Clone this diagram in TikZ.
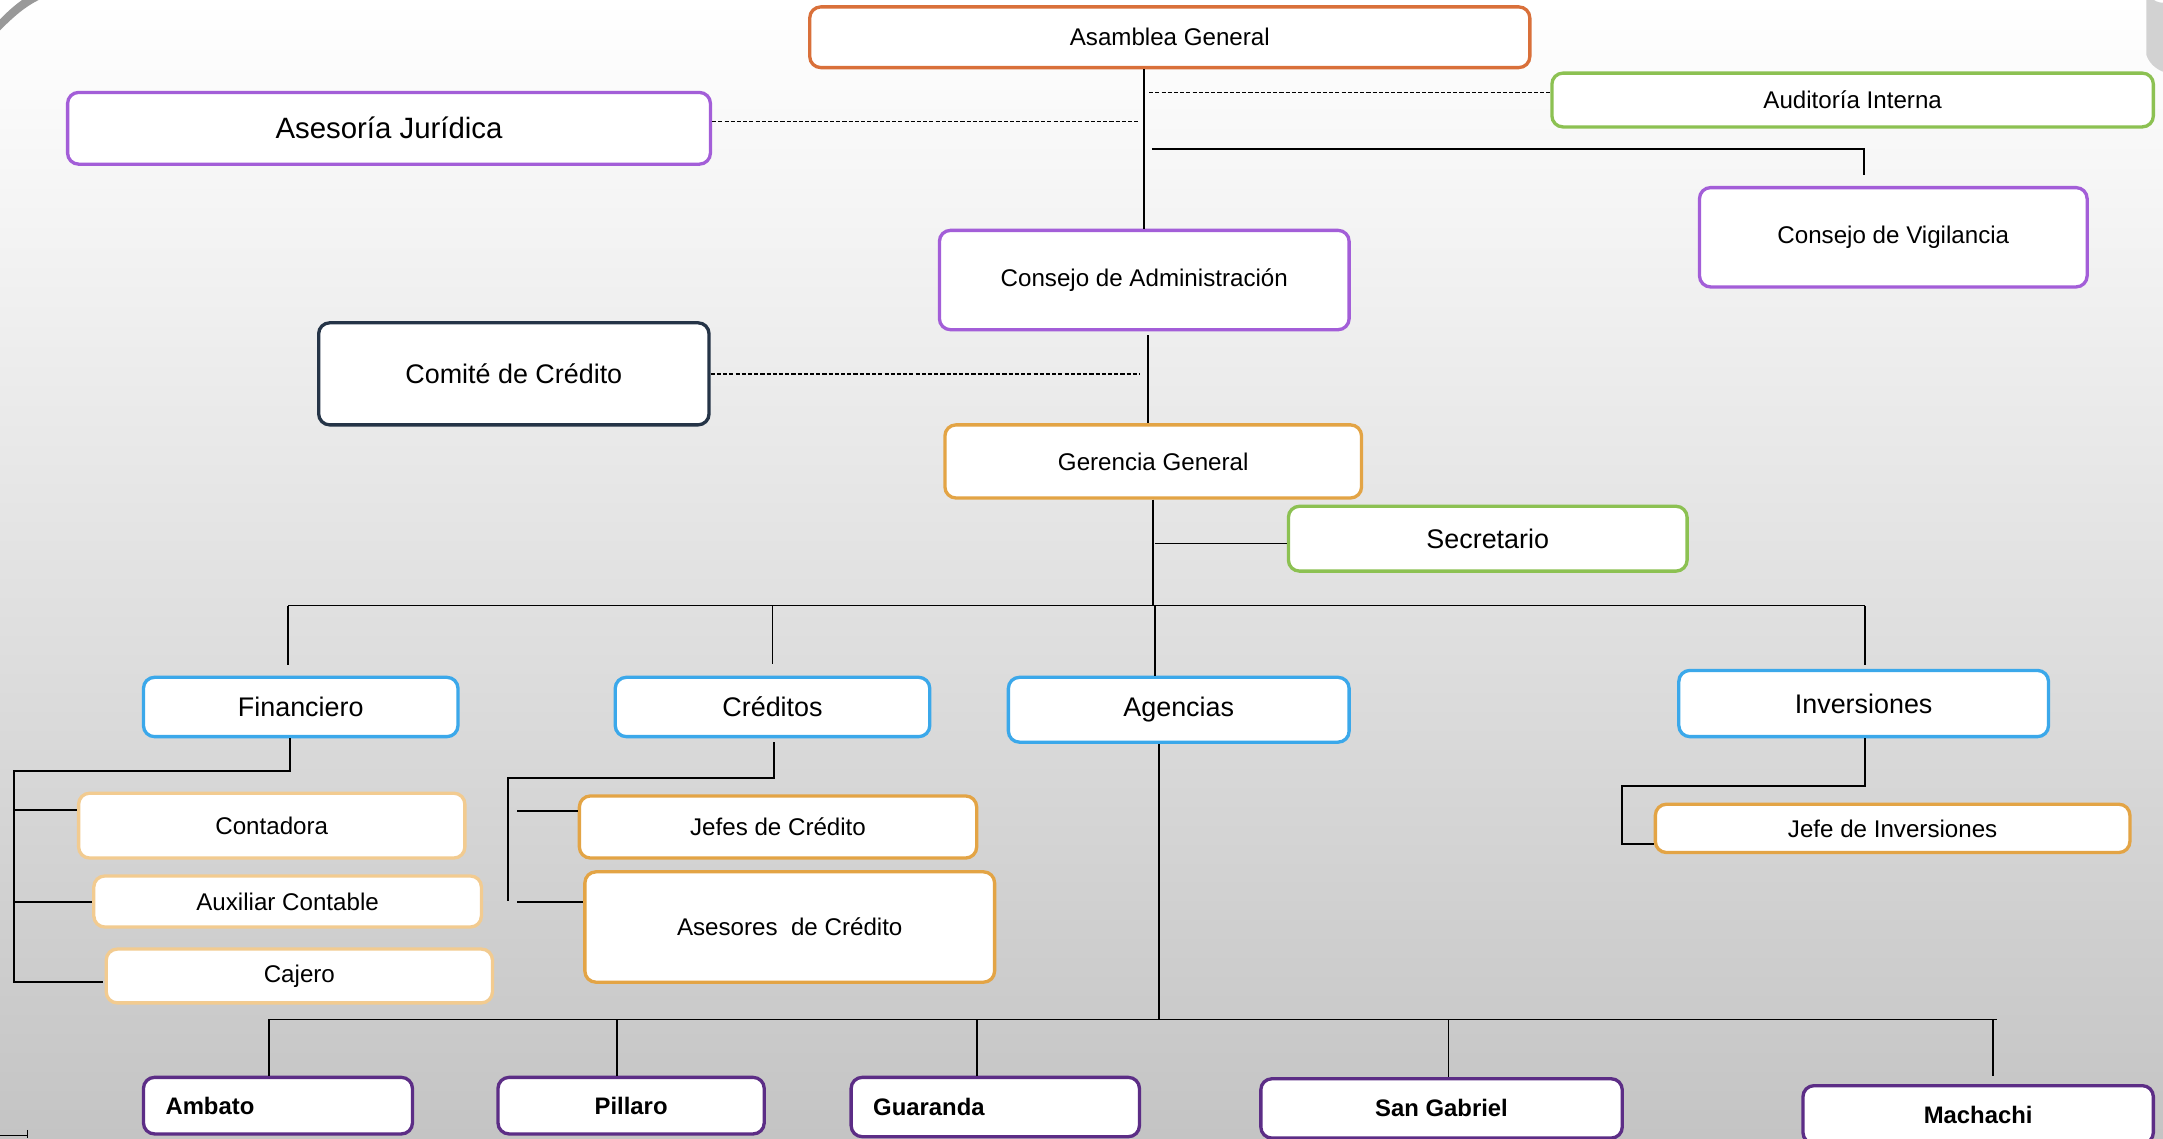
\documentclass[tikz,border=0pt]{standalone}
\usepackage{fontspec}
\setmainfont{Liberation Sans}
\usetikzlibrary{calc}
\definecolor{cOrange}{HTML}{D9703A}
\definecolor{cPurple}{HTML}{A35ED8}
\definecolor{cGreen}{HTML}{8CC152}
\definecolor{cNavy}{HTML}{253447}
\definecolor{cGold}{HTML}{E3A445}
\definecolor{cLight}{HTML}{F2CB90}
\definecolor{cBlue}{HTML}{3BA8EA}
\definecolor{cDark}{HTML}{5C2D86}
\definecolor{bgBot}{HTML}{C4C4C4}
\definecolor{bgMid}{HTML}{E8E8E8}
\begin{document}
\begin{tikzpicture}[x=1pt,y=-1pt,
  box/.style={draw=#1, line width=2.4pt, rounded corners=8pt, fill=white, inner sep=0pt,
    font=\fontsize{17.5}{20}\selectfont, align=center},
  big/.style={font=\fontsize{19.5}{22}\selectfont},
  huge/.style={font=\fontsize{21.3}{24}\selectfont},
  bold/.style={font=\fontsize{17.3}{20}\selectfont\bfseries},
  conn/.style={draw=black, line width=1.3pt},
  dsh/.style={draw=black, line width=1.3pt, dash pattern=on 3pt off 1.5pt}]
\useasboundingbox (0,0) rectangle (1568,825);
\shade[top color=white, bottom color=bgMid] (0,0) rectangle (1568,330);
\shade[top color=bgMid, bottom color=bgBot] (0,330) rectangle (1568,825);
% decorative corners
\fill[gray!80] (0,22) .. controls (10,12) and (18,5) .. (28,0) -- (16,0) .. controls (9,5) and (4,10) .. (0,14) -- cycle;
\fill[gray!35] (1568,2) arc[start angle=90, end angle=180, radius=12] -- (1556,40) .. controls (1558,46) and (1563,50) .. (1568,52) -- cycle;
\draw[black, line width=1pt] (0,823) -- (20,823) (20,819) -- (20,825);

% nodes
\node[box=cOrange, minimum width=522, minimum height=44] (asam) at (848,27) {Asamblea General};
\node[box=cPurple, huge, minimum width=466, minimum height=52] (jur) at (282,93) {Asesoría Jurídica};
\node[box=cGreen, minimum width=436, minimum height=39] (aud) at (1343,72.5) {Auditoría Interna};
\node[box=cPurple, minimum width=281, minimum height=72] (vig) at (1372.5,172) {Consejo de Vigilancia};
\node[box=cPurple, minimum width=297, minimum height=72] (adm) at (829.5,203) {Consejo de Administración};
\node[box=cNavy, big, minimum width=283, minimum height=74] (com) at (372.5,271) {Comité de Crédito};
\node[box=cGold, minimum width=302, minimum height=53] (ger) at (836,334.5) {Gerencia General};
\node[box=cGreen, big, minimum width=289, minimum height=47] (sec) at (1078.5,390.5) {Secretario};
\node[box=cBlue, big, minimum width=228, minimum height=43] (fin) at (218,512.5) {Financiero};
\node[box=cBlue, big, minimum width=228, minimum height=43] (cre) at (560,512.5) {Créditos};
\node[box=cBlue, big, minimum width=247, minimum height=47] (age) at (854.5,514.5) {Agencias};
\node[box=cBlue, big, minimum width=268, minimum height=48] (inv) at (1351,510) {Inversiones};
\node[box=cLight, minimum width=280, minimum height=47] (cont) at (197,598.5) {Contadora};
\node[box=cLight, minimum width=281, minimum height=37] (aux) at (208.5,653.5) {Auxiliar Contable};
\node[box=cLight, minimum width=280, minimum height=39] (caj) at (217,707.5) {Cajero};
\node[box=cGold, minimum width=288, minimum height=45] (jef) at (564,599.5) {Jefes de Crédito};
\node[box=cGold, minimum width=297, minimum height=80] (ase) at (572.5,672) {Asesores~ de Crédito};
\node[box=cGold, minimum width=344, minimum height=35] (jinv) at (1372,600.5) {Jefe de Inversiones};
\node[box=cDark, bold, minimum width=195, minimum height=41, text width=163, align=left] (amb) at (201.5,801.5) {Ambato};
\node[box=cDark, bold, minimum width=193, minimum height=41] (pil) at (457.5,801.5) {Pillaro};
\node[box=cDark, bold, minimum width=209, minimum height=43, text width=177, align=left] (gua) at (721.5,802.5) {Guaranda};
\node[box=cDark, bold, minimum width=262, minimum height=43] (sg) at (1045,803.5) {San Gabriel};
\node[box=cDark, bold, minimum width=254, minimum height=42] (mach) at (1434,808) {Machachi};

% helper coordinates
\coordinate (jd) at (826,88);
\coordinate (ad) at (833,67);
\coordinate (vgA) at (835,108);
\coordinate (vgB) at (1351,127);
\coordinate (agTop) at (832,243);
\coordinate (comEnd) at (826,271);
\coordinate (bus) at (836,439);
\coordinate (secA) at (837,394);
\coordinate (finB) at (10,559);
\coordinate (creB) at (368,564);
\coordinate (invB) at (1176,570);
\coordinate (agB) at (840,739);

% connectors
\draw[conn] (asam.south -| adm.north) -- (adm.north);
\draw[dsh] (jur.east |- jd) -- (jd);
\draw[dsh] (ad) -- (aud.west |- ad);
\draw[conn] (vgA) -| (vgB);
\draw[conn] (agTop) -- (ger.north -| agTop);
\draw[dsh] (com.east) -- (comEnd);
\draw[conn] (ger.south) -- (bus);
\draw[conn] (secA) -- (sec.west |- secA);
\draw[conn] (209,439) -- (1352,439);
\draw[conn] (209,439) -- (209,482);
\draw[conn] (560,439) -- (560,481);
\draw[conn] (837,439) -- (age.north -| 837,0);
\draw[conn] (1352,439) -- (1352,482);
% Financiero
\draw[conn] (fin.south -| 210,0) -- (210,559) -- (finB) -- (10,712) -- (75,712);
\draw[conn] (10,587) -- (cont.west |- 10,587);
\draw[conn] (10,654) -- (aux.west |- 10,654);
% Creditos
\draw[conn] (561,538) -- (561,564) -- (creB) -- (368,653);
\draw[conn] (375,588) -- (jef.west |- 375,588);
\draw[conn] (375,654) -- (ase.west |- 375,654);
% Inversiones
\draw[conn] (inv.south -| 1352,0) -- (1352,570) -- (invB) -- (1176,612) -- (jinv.west |- 1176,612);
% Agencias
\draw[conn] (age.south -| 840,0) -- (agB);
\draw[conn] (195,739) -- (1448,739);
\draw[conn] (195,739) -- (amb.north -| 195,0);
\draw[conn] (447,739) -- (pil.north -| 447,0);
\draw[conn] (708,739) -- (gua.north -| 708,0);
\draw[conn] (1050,739) -- (sg.north -| 1050,0);
\draw[conn] (1445,739) -- (1445,780);
\end{tikzpicture}
\end{document}
